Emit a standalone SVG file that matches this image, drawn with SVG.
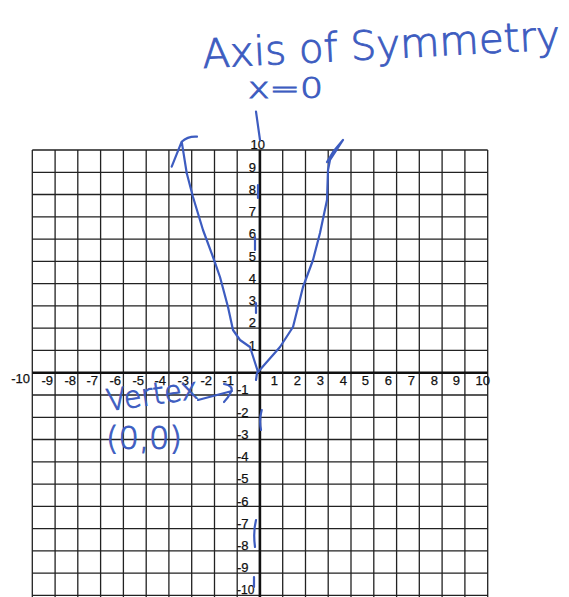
<svg xmlns="http://www.w3.org/2000/svg" width="569" height="597" viewBox="0 0 569 597">
<style>
.g{stroke:#222;stroke-width:1.3;fill:none}
.ax{stroke:#111;stroke-width:2.6;fill:none}
.lb{font-family:"Liberation Sans",Arial,sans-serif;font-size:13px;fill:#111;stroke:#111;stroke-width:0.25}
.bl{stroke:#3d5cc0;stroke-width:2.2;fill:none;stroke-linecap:round;stroke-linejoin:round}
.hw{font-family:"DejaVu Sans","Liberation Sans",sans-serif;font-weight:200;fill:#3d5cc0;stroke:#3d5cc0;stroke-width:0.9}
</style>
<rect width="569" height="597" fill="#fff"/>
<g id="grid">
<path class="g" d="M32.3 150V597M55.1 150V597M77.8 150V597M100.6 150V597M123.4 150V597M146.2 150V597M168.9 150V597M191.7 150V597M214.5 150V597M237.2 150V597M282.7 150V597M305.5 150V597M328.2 150V597M351 150V597M373.8 150V597M396.6 150V597M419.3 150V597M442.1 150V597M464.9 150V597M487.7 150V597"/>
<path class="g" d="M32.3 150H487.7M32.3 172.3H487.7M32.3 194.5H487.7M32.3 216.8H487.7M32.3 239.1H487.7M32.3 261.4H487.7M32.3 283.6H487.7M32.3 305.9H487.7M32.3 328.2H487.7M32.3 350.4H487.7M32.3 395H487.7M32.3 417.3H487.7M32.3 439.5H487.7M32.3 461.8H487.7M32.3 484.1H487.7M32.3 506.4H487.7M32.3 528.6H487.7M32.3 550.9H487.7M32.3 573.2H487.7M32.3 595.4H487.7"/>
<path class="ax" d="M32.3 372.7H487.7M259.9 150V597"/>
</g>
<g id="xlabels" class="lb" text-anchor="end">
<text x="30" y="383">-10</text>
<text x="53" y="385">-9</text>
<text x="76" y="385">-8</text>
<text x="98" y="385">-7</text>
<text x="121" y="385">-6</text>
<text x="144" y="385">-5</text>
<text x="166" y="385">-4</text>
<text x="189" y="385">-3</text>
<text x="212" y="385">-2</text>
<text x="234" y="385">-1</text>
<text x="278" y="385">1</text>
<text x="301" y="385">2</text>
<text x="324" y="385">3</text>
<text x="347" y="385">4</text>
<text x="369" y="385">5</text>
<text x="392" y="385">6</text>
<text x="415" y="385">7</text>
<text x="438" y="385">8</text>
<text x="460" y="385">9</text>
<text x="490" y="385">10</text>
</g>
<g id="ylabels" class="lb">
<text x="265" y="149" text-anchor="end">10</text>
<text x="256" y="171.5" text-anchor="end">9</text>
<text x="256" y="193.7" text-anchor="end">8</text>
<text x="256" y="216" text-anchor="end">7</text>
<text x="256" y="238.3" text-anchor="end">6</text>
<text x="256" y="260.6" text-anchor="end">5</text>
<text x="256" y="282.8" text-anchor="end">4</text>
<text x="256" y="305.1" text-anchor="end">3</text>
<text x="256" y="327.4" text-anchor="end">2</text>
<text x="256" y="349.6" text-anchor="end">1</text>
<text x="237" y="394.2">-1</text>
<text x="237" y="416.5">-2</text>
<text x="237" y="438.7">-3</text>
<text x="237" y="461">-4</text>
<text x="237" y="483.3">-5</text>
<text x="237" y="505.6">-6</text>
<text x="237" y="527.8">-7</text>
<text x="237" y="550.1">-8</text>
<text x="237" y="572.4">-9</text>
<text x="237" y="593.5" font-size="12">-10</text>
</g>
<g id="parabola">
<path class="bl" d="M186.7 173 L193 197 L203 230 L213 257 L220 277 L228 307 L233 330 L240 340 L250 347 L258 372 L280 347 L293 327 L303 287 L313 260 L320 233 L327 200 L328 170 L330 160 L343 140 L333 152 L327 162"/>
<path class="bl" d="M181.7 141.7 L186.7 173 M171.7 166.7 L181.7 141.7 Q188 136 197 136.7"/>
</g>
<g id="axis-of-symmetry">
<path class="bl" d="M256 111.7 L260 140 M258 185 L258 198 M255 237 L255 250 M256 303 L256 313 M257 373 L256 380 M261.7 410 Q259 420 261 430 M256 520 Q253 532 255 547 M254 577 L254 587"/>
<text class="hw" x="203" y="68" font-size="40" textLength="358" lengthAdjust="spacingAndGlyphs" transform="rotate(-3 203 68)">Axis of Symmetry</text>
<text class="hw" x="248" y="98" font-size="28" textLength="75" lengthAdjust="spacingAndGlyphs">x=0</text>
</g>
<g id="vertex">
<text class="hw" x="108" y="411" font-size="30" textLength="92" lengthAdjust="spacingAndGlyphs" transform="rotate(-8 108 411)">Vertex</text>
<path class="bl" d="M198 400 L232 391 M224 384 Q234 386 231 392 Q228 398 224 402"/>
<text class="hw" x="106" y="449" font-size="32" textLength="76" lengthAdjust="spacingAndGlyphs">(0,0)</text>
</g>
</svg>
